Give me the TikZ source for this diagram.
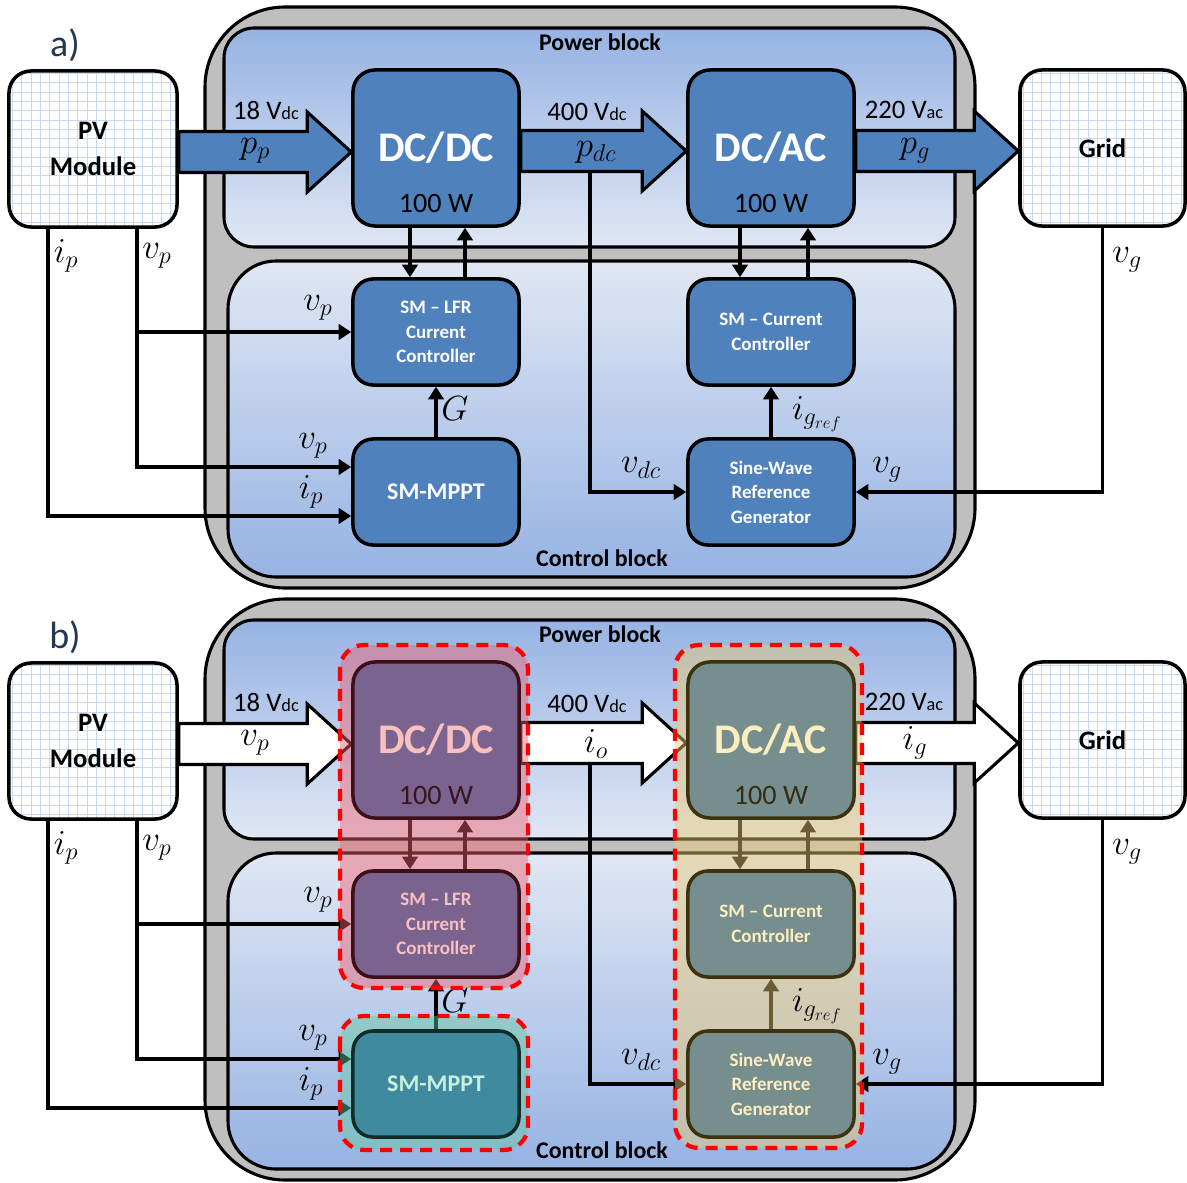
\documentclass[tikz,border=0pt]{standalone}
\usepackage{fontspec}
\setmainfont{Carlito}
\usetikzlibrary{arrows.meta,calc}
\pgfdeclarelayer{bg}\pgfdeclarelayer{conn}\pgfdeclarelayer{ov}\pgfdeclarelayer{top}
\pgfsetlayers{bg,conn,ov,main,top}
\definecolor{boxblue}{RGB}{79,129,189}
\definecolor{outergray}{RGB}{191,191,191}
\definecolor{bldark}{RGB}{150,179,227}
\definecolor{bllight}{RGB}{224,231,244}
\definecolor{gridc}{RGB}{198,217,241}
\definecolor{panlabc}{RGB}{38,55,80}
\definecolor{dcB}{RGB}{122,100,143}
\definecolor{dcBd}{RGB}{60,15,25}
\definecolor{dcBt}{RGB}{250,192,192}
\definecolor{dcBw}{RGB}{55,20,30}
\definecolor{acB}{RGB}{118,142,142}
\definecolor{acBd}{RGB}{60,50,15}
\definecolor{acBt}{RGB}{253,238,192}
\definecolor{acBw}{RGB}{50,45,20}
\definecolor{mpB}{RGB}{64,138,160}
\definecolor{mpBd}{RGB}{15,45,38}
\definecolor{mpBt}{RGB}{200,240,222}
\definecolor{pinkov}{RGB}{240,95,110}
\definecolor{tanov}{RGB}{237,202,113}
\definecolor{tealov}{RGB}{100,200,160}
\newcommand\sub[1]{{\fontsize{13}{13}\selectfont #1}}
\tikzset{
 wire/.style={line width=2.4pt, draw=black},
 arr/.style={-{Triangle[length=9pt,width=11pt]}},
 outerbox/.style={draw, line width=2.2pt, fill=outergray, rounded corners=2cm},
 powerbox/.style={draw, line width=2.2pt, top color=bldark, bottom color=bllight, rounded corners=0.75cm},
 ctrlbox/.style={draw, line width=2.2pt, top color=bllight, bottom color=bldark, rounded corners=1.2cm},
 gridbox/.style={draw, line width=2.5pt, fill=white, rounded corners=0.55cm, minimum height=3.9cm, align=center, inner sep=0pt,
   font=\fontsize{19}{26}\selectfont\bfseries,
   path picture={\draw[gridc, line width=0.7pt, step=0.2325cm] (path picture bounding box.south west) grid (path picture bounding box.north east);}},
 bigbox/.style={draw, line width=2.5pt, rounded corners=0.55cm, minimum width=4.15cm, minimum height=3.9cm, inner sep=0pt, font=\fontsize{30}{30}\selectfont\bfseries},
 smallbox/.style={draw, line width=2.5pt, rounded corners=0.5cm, minimum width=4.15cm, minimum height=2.65cm, inner sep=0pt, align=center, font=\fontsize{13.5}{17.4}\selectfont\bfseries},
 watt/.style={font=\fontsize{20}{20}\selectfont, inner sep=0pt},
 vlab/.style={font=\fontsize{19}{19}\selectfont, inner sep=0pt},
 mlab/.style={font=\fontsize{24}{24}\selectfont, inner sep=0pt},
 blktitle/.style={font=\fontsize{17}{17}\selectfont\bfseries, inner sep=0pt},
 panlab/.style={font=\fontsize{27}{27}\selectfont, text=panlabc, inner sep=0pt},
 barrow/.style={draw, line width=2.2pt, line join=miter},
 reddash/.style={draw=red, line width=3pt, dash pattern=on 8.5pt off 5.7pt, rounded corners=0.6cm},
}
\newcommand\blockarrow[2]{%
 \coordinate (#1-#2-t) at ($(#2.west |- #1.east)+(0,3)$);
 \draw[barrow] ($(#1.east)+(0,-17.5)$) -- ($(#1-#2-t)+(-44,-20.5)$) -- ($(#1-#2-t)+(-44,-40)$) -- (#1-#2-t)
   -- ($(#1-#2-t)+(-44,40)$) -- ($(#1-#2-t)+(-44,20.5)$) -- ($(#1.east)+(0,23.5)$) -- cycle;}
% #1 prefix, #2 letter, #3 #4 #5 arrow labels
\newcommand\panel[5]{%
 \begin{pgfonlayer}{bg}
  \path[outerbox] (205,7) rectangle (975,588);
  \path[powerbox] (224,28) rectangle (955,247);
  \path[ctrlbox] (228,261) rectangle (955,577);
 \end{pgfonlayer}
 \node[panlab] (#1plab) at (65,45) {#2)};
 \node[blktitle] (#1ptitle) at (600,42) {Power block};
 \node[blktitle] (#1ctitle) at (602,558) {Control block};
 \node[gridbox, minimum width=4.2cm] (#1pv) at (93,149) {PV\\Module};
 \node[gridbox, minimum width=4.125cm] (#1grid) at (1102.5,148) {Grid};
 \node[bigbox, dcsty] (#1dcdc) at (436,148) {DC/DC};
 \node[bigbox, acsty] (#1ac) at (771,148) {DC/AC};
 \node[watt, dcw] (#1dcw) at ($(#1dcdc.south)+(0,-24)$) {100 W};
 \node[watt, acw] (#1acw) at ($(#1ac.south)+(0,-24)$) {100 W};
 \node[smallbox, dcsty] (#1lfr) at (436,332) {SM – LFR\\Current\\Controller};
 \node[smallbox, mpsty, font=\fontsize{17}{17}\selectfont\bfseries] (#1mppt) at (436,492) {SM-MPPT};
 \node[smallbox, acsty] (#1cur) at (771,332) {SM – Current\\Controller};
 \node[smallbox, acsty] (#1sine) at (771,492) {Sine-Wave\\Reference\\Generator};
 \coordinate (#1vdc) at (590,172);
 \begin{pgfonlayer}{conn}
  \draw[wire, arr] (48,0 |- #1pv.south) |- ($(#1mppt.west)+(0,24)$);
  \draw[wire, arr] (137,0 |- #1pv.south) |- ($(#1mppt.west)+(0,-25)$);
  \draw[wire, arr] (137,0 |- #1lfr.west) -- (#1lfr.west);
  \draw[wire, arr] (#1mppt.north) -- (#1lfr.south);
  \draw[wire, arr] ($(#1dcdc.south)+(-26,0)$) -- ($(#1lfr.north)+(-26,0)$);
  \draw[wire, arr] ($(#1lfr.north)+(29,0)$) -- ($(#1dcdc.south)+(29,0)$);
  \draw[wire, arr] ($(#1ac.south)+(-31,0)$) -- ($(#1cur.north)+(-31,0)$);
  \draw[wire, arr] ($(#1cur.north)+(37,0)$) -- ($(#1ac.south)+(37,0)$);
  \draw[wire, arr] (#1vdc) |- (#1sine.west);
  \draw[wire, arr] (#1grid.south) |- (#1sine.east);
  \draw[wire, arr] (#1sine.north) -- (#1cur.south);
  \blockarrow{#1pv}{#1dcdc}
  \blockarrow{#1dcdc}{#1ac}
  \blockarrow{#1ac}{#1grid}
 \end{pgfonlayer}
 \node[vlab] (#1v18) at (266,110) {18 V\sub{dc}};
 \node[vlab] (#1v400) at (587,112) {400 V\sub{dc}};
 \node[vlab] (#1v220) at (904,110) {220 V\sub{ac}};
 \node[mlab] (#1l1) at (255,151) {$#3$};
 \node[mlab] (#1l2) at (596,152) {$#4$};
 \node[mlab] (#1l3) at (915,151) {$#5$};
 \node[mlab] (#1ipa) at (66,256) {$i_p$};
 \node[mlab] (#1vpa) at (157,256) {$v_p$};
 \node[mlab] (#1vpb) at (318,308) {$v_p$};
 \node[mlab] (#1vpc) at (313,446) {$v_p$};
 \node[mlab] (#1ipb) at (311,492) {$i_p$};
 \node[mlab] (#1G) at (455,409) {$G$};
 \node[mlab] (#1vdcl) at (641,468) {$v_{dc}$};
 \node[mlab] (#1vgl) at (887,470) {$v_g$};
 \node[mlab] (#1vgr) at (1127,260) {$v_g$};
 \node[mlab] (#1igr) at (817,414) {$i_{g_{ref}}$};
 \ovfill
 \ovdash
}
\begin{document}
\begin{tikzpicture}[x=0.025cm, y=-0.025cm]
\useasboundingbox (0,0) rectangle (1187,1182);
% panel a
\tikzset{dcsty/.style={fill=boxblue, draw=black, text=white}, acsty/.style={fill=boxblue, draw=black, text=white},
 mpsty/.style={fill=boxblue, draw=black, text=white}, dcw/.style={text=black}, acw/.style={text=black},
 barrow/.append style={fill=boxblue}}
\newcommand\ovfill{}
\newcommand\ovdash{}
\begin{scope}
\panel{a-}{a}{p_p}{p_{dc}}{p_g}
\end{scope}
% panel b
\begin{scope}[shift={(0,592)}]
\tikzset{dcsty/.style={fill=dcB, draw=dcBd, text=dcBt}, acsty/.style={fill=acB, draw=acBd, text=acBt},
 mpsty/.style={fill=mpB, draw=mpBd, text=mpBt}, dcw/.style={text=dcBw}, acw/.style={text=acBw},
 barrow/.append style={fill=white}}
\renewcommand\ovfill{%
 \begin{pgfonlayer}{ov}
  \fill[pinkov, fill opacity=.45, rounded corners=0.6cm] (340,53) rectangle (528,396);
  \fill[tealov, fill opacity=.45, rounded corners=0.6cm] (340,424) rectangle (528,558);
  \fill[tanov, fill opacity=.46, rounded corners=0.6cm] (675,53) rectangle (862,556);
 \end{pgfonlayer}}
\renewcommand\ovdash{%
 \begin{pgfonlayer}{top}
  \draw[reddash] (340,53) rectangle (528,396);
  \draw[reddash] (340,424) rectangle (528,558);
  \draw[reddash] (675,53) rectangle (862,556);
 \end{pgfonlayer}}
\panel{b-}{b}{v_p}{i_o}{i_g}
\end{scope}
\end{tikzpicture}
\end{document}
